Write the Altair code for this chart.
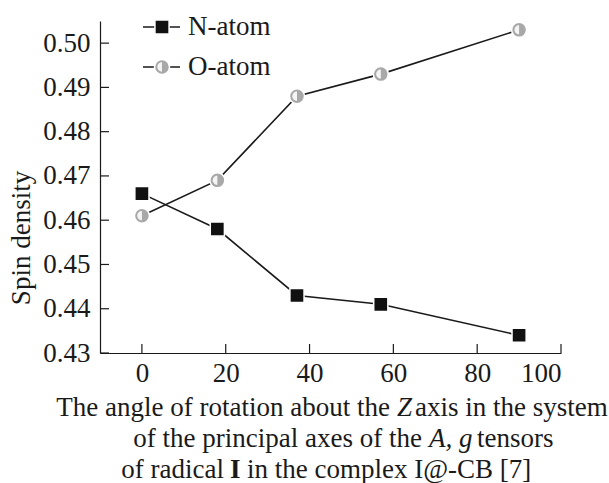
import altair as alt
import pandas as pd

# ---- data ----
angles = [0, 18, 37, 57, 90]
n_atom = [0.466, 0.458, 0.443, 0.441, 0.434]
o_atom = [0.461, 0.469, 0.488, 0.493, 0.503]
series_names = ["N-atom", "O-atom"]
x_ticks = [0, 20, 40, 60, 80, 100]
y_ticks = [0.43, 0.44, 0.45, 0.46, 0.47, 0.48, 0.49, 0.50]
y_title = ["Spin density"]
x_title_1 = ["The angle of rotation about the", "Z", "axis in the system"]
x_title_2 = ["of the principal axes of the", "A,", "g", "tensors"]
x_title_3 = ["of radical", "I", "in the complex I@-CB [7]"]

FONT = "Liberation Serif"
FS = 27
INK = "#1a1a1a"
GRAY = "#a8a8a8"
W, H = 461, 332

df = pd.DataFrame({
    "angle": angles * 2,
    "density": n_atom + o_atom,
    "series": [series_names[0]] * len(angles) + [series_names[1]] * len(angles),
})

xs = alt.Scale(domain=[-10, 100], nice=False, zero=False)
ys = alt.Scale(domain=[0.43, 0.505], nice=False, zero=False)

x_axis = alt.Axis(values=x_ticks, title=None, tickSize=0, labelPadding=7, grid=False,
                  labelFont=FONT, labelFontSize=FS, labelColor=INK,
                  domainColor=INK, domainWidth=1.2)
y_axis = alt.Axis(values=y_ticks, format=".2f", title=None, tickSize=0, labelPadding=10,
                  grid=False, labelFont=FONT, labelFontSize=FS, labelColor=INK,
                  domainColor=INK, domainWidth=1.2)

base = alt.Chart(df)
pt_x = alt.X("angle:Q", scale=xs, axis=x_axis)
pt_y = alt.Y("density:Q", scale=ys, axis=y_axis)

lines = base.mark_line(color=INK, strokeWidth=1.6).encode(
    x=pt_x, y=pt_y, detail="series:N")

squares = base.transform_filter(alt.datum.series == series_names[0]).mark_point(
    shape="square", filled=True, fill="#111111", stroke="white", strokeWidth=1.5,
    size=200, opacity=1).encode(x=pt_x, y=pt_y)

HALF = "M0,-0.62 A0.62,0.62 0 0 0 0,0.62 Z"
circles = base.transform_filter(alt.datum.series == series_names[1]).mark_point(
    shape="circle", filled=True, fill=GRAY, stroke="white", strokeWidth=1.5,
    size=225, opacity=1).encode(x=pt_x, y=pt_y)
halves = base.transform_filter(alt.datum.series == series_names[1]).mark_point(
    shape=HALF, filled=True, fill="#f4f4f4", strokeWidth=0,
    size=225, opacity=1).encode(x=pt_x, y=pt_y)

# inward ticks
ytick_df = pd.DataFrame({"density": y_ticks})
xtick_df = pd.DataFrame({"angle": x_ticks})
yticks = alt.Chart(ytick_df).mark_rule(color=INK, strokeWidth=1.2).encode(
    y=pt_y, x=alt.value(0), x2=alt.value(9))
xticks = alt.Chart(xtick_df).mark_rule(color=INK, strokeWidth=1.2).encode(
    x=pt_x, y=alt.value(H), y2=alt.value(H - 9))

# legend
def legend_entry(i, ypix, marker_layers):
    d = pd.DataFrame({"label": [series_names[i]]})
    c = alt.Chart(d)
    rule = c.mark_rule(color=INK, strokeWidth=1.6).encode(
        x=alt.value(43), x2=alt.value(80), y=alt.value(ypix))
    txt = c.mark_text(align="left", baseline="middle", font=FONT, fontSize=FS,
                      color=INK).encode(x=alt.value(88), y=alt.value(ypix),
                                        text="label:N")
    marks = [m.encode(x=alt.value(62), y=alt.value(ypix)) for m in marker_layers(c)]
    return [rule] + marks + [txt]

leg_n = legend_entry(0, 6, lambda c: [c.mark_point(
    shape="square", filled=True, fill="#111111", stroke="white", strokeWidth=1.5,
    size=200, opacity=1)])
leg_o = legend_entry(1, 46, lambda c: [
    c.mark_point(shape="circle", filled=True, fill=GRAY, stroke="white",
                 strokeWidth=1.5, size=225, opacity=1),
    c.mark_point(shape=HALF, filled=True, fill="#f4f4f4", strokeWidth=0,
                 size=225, opacity=1)])

# axis titles as text
def text_piece(s, xpix, ypix, align, style="normal", weight="normal", angle=0):
    d = pd.DataFrame({"t": [s]})
    kw = dict(align=align, baseline="alphabetic", font=FONT, fontSize=FS, color=INK,
              fontStyle=style, fontWeight=weight)
    if angle:
        kw["angle"] = angle
        kw["baseline"] = "middle"
    return alt.Chart(d).mark_text(**kw).encode(
        x=alt.value(xpix), y=alt.value(ypix), text="t:N")

ytitle = text_piece(y_title[0], -78, 217, "center", angle=270)

L1, L2, L3 = 395, 426, 457
title_parts = [
    text_piece(x_title_1[0], 290, L1, "right"),
    text_piece(x_title_1[1], 297, L1, "left", style="italic"),
    text_piece(x_title_1[2], 315, L1, "left"),
    text_piece(x_title_2[0], 322, L2, "right"),
    text_piece(x_title_2[1], 329, L2, "left", style="italic"),
    text_piece(x_title_2[2], 359, L2, "left", style="italic"),
    text_piece(x_title_2[3], 377, L2, "left"),
    text_piece(x_title_3[0], 124, L3, "right"),
    text_piece(x_title_3[1], 130, L3, "left", weight="bold"),
    text_piece(x_title_3[2], 147, L3, "left"),
]

chart = alt.layer(
    lines, yticks, xticks, squares, circles, halves,
    *leg_n, *leg_o, ytitle, *title_parts,
).properties(
    width=W, height=H,
    padding={"left": 100, "top": 21, "right": 48, "bottom": 130},
    autosize=alt.AutoSizeParams(type="none"),
).configure_view(stroke=None)

chart.save("out.html", embed_options={"renderer": "svg", "actions": False})
